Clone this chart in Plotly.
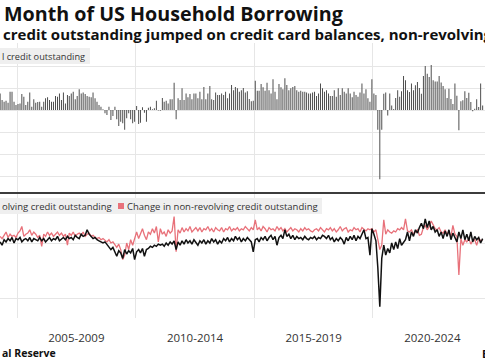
import pandas as pd
import plotly.graph_objects as go

# ---------------- data (monthly, $bn) ----------------
start_month = "2004-04-01"

total_change = [
    15, 9, 7.5, 8.5, 6.7, 16.7, 16.7, 7.6, 4.5, 5.5,
    6, 14.5, 12, 4.5, 7.5, 15.8, 3, 9.7, 6.7, 7.3,
    7.6, 3, 7.6, 10.6, 11.5, 9, 7.6, 7.6, 12.7, 12,
    15, 9, 16, 6, 13.6, 12.7, 15, 16.7, 9.7, 12.7,
    18.8, 15, 16, 14.5, 12.7, 12, 11.5, 15.8, 10.6, 7.6,
    4.5, 3, 0.6, -3, -4.5, 3, -9, -5.5, 3, -8.5,
    -14.5, -10.6, -12, -18, -7.6, -3, -8.5, -12, -10.6, 3.6,
    -12.7, -11.5, 2.4, -2.4, -10.6, 2, 3, 0.6, 1.5, 8.5,
    -0.5, -0.6, 11, 7.6, 8.5, 6, 9.7, 9.7, 24.8, -8.5,
    10.6, 9, 19.7, 9, 15, 11.5, 14.5, 9.7, 15, 15,
    10.6, 16.7, 9.7, 21, 9.7, 15, 21.8, 9.7, 9, 16,
    13.6, 13.6, 15, 13.6, 16.7, 10.6, 15, 22.7, 18, 21,
    19.7, 16.7, 18, 20, 16, 17, 10, 8, 8.5, 26.7,
    17.6, 17.6, 23.6, 20.6, 17.6, 24.8, 18, 15, 27.9, 16.7,
    9.7, 23.6, 20.6, 18.8, 28.8, 22.7, 18, 19.7, 21, 21.8,
    18, 16.7, 17.6, 16.7, 16.7, 16, 15, 15, 16, 16.7,
    12.7, 15, 24, 19.7, 16.7, 18, 15, 12.7, 12.7, 18,
    12, 19.7, 13.6, 19.7, 16.7, 15, 19.7, 15, 11.5, 16.7,
    13.6, 12, 15.8, 24, 15, 18.8, 10.6, 7.6, 27.9, 15,
    13.6, -18, -63, -18, 14.8, 16, -5, 15, 4, 1,
    11, 18, 12, 17, 31, 27, 18, 16.4, 24, 18,
    22.4, 25.5, 20, 14.8, 31, 40, 33, 30, 41, 27,
    26, 26, 31, 25, 21.8, 18.8, 11, 19.4, 10, 5.5,
    24, 13, -18.5, 7.9, 8.8, 17, 11, 15.7, 7.3, -1.2,
    1.2, 9.7, 2.7, 24, 4,
]

revolving_change = [
    1, -2, 3, 1, 4, 2, 5, 0, 4, 3,
    5, 1, 3, 4, 2, 5, 1, 4, 3, 2,
    5, 2, 4, 1, 3, 5, 2, 4, 3, 6,
    2, 4, 5, 3, 6, 4, 5, 3, 7, 5,
    4, 8, 6, 7, 12, 8, 6, 4, 5, 3,
    2, 1, 0, 1, -1, -3, -6, -4, -9, -12,
    -7, -9, -14, -6, -10, -7, -9, -5, -15, -8,
    -6, -9, -5, -12, -6, -5, -3, -4, -2, -3,
    -1, -2, -1, -3, 0, -2, 1, -1, 2, -6,
    1, -2, 2, -1, 3, 0, 2, -1, 3, 1,
    -2, 2, 0, 3, -1, 2, 0, 4, 1, 3,
    -1, 2, 0, 4, 2, 5, 1, 4, 2, 6,
    3, 5, 1, 4, 2, 5, 3, 1, -8, 3,
    4, 1, 5, 3, 6, 2, 5, 7, 3, 6,
    -2, 5, 7, 4, 12, 6, 8, 4, 7, 3,
    6, 4, 5, 3, 6, 4, 3, 5, 4, 6,
    3, 5, 4, 7, 6, 4, 7, 3, 5, 1,
    4, 2, 5, 3, -1, 5, 2, 6, 3, 7,
    2, 6, 4, 8, 12, 4, 5, -11, 13, 8,
    2, -22, -58, -14, -2, -11, -5, -9, 0, -6,
    1, -5, 4, -2, 1, 3, 10, 2, 10, 6,
    12, 9, 14, 18, 13, 22, 14, 20, 12, 15,
    10, 12, 6, 10, 4, 11, 6, 12, 3, 9,
    5, 1, 10, 4, 12, 3, 8, 2, 10, 1,
    6, 3, 5, 0, 4,
]

nonrevolving_change = [
    6, 4, 7, 10, 5, 8, 6, 7, 5, 9,
    11, 15, 6, 8, 9, 12, 7, 10, 8, 5,
    7, -3, 8, 6, 10, 7, 9, 6, 8, 10,
    7, 9, 6, 8, -2, 9, 7, 10, 6, 8,
    9, 7, 10, 6, 8, 9, 6, 7, 5, 4,
    5, 3, 4, 2, 1, 3, 0, 1, -2, -4,
    -1, -6, -15, -11, 0, -6, 3, -2, 4, 10,
    4, 8, 13, 7, 3, 10, 8, 13, 9, 15,
    1, 13, 8, 10, 6, 12, 9, 11, 24, -8,
    12, 9, 14, 10, 13, 11, 15, 10, 12, 14,
    11, 14, 10, 13, 12, 15, 11, 13, 10, 14,
    12, 11, 14, 10, 13, 12, 15, 11, 13, 12,
    14, 11, 13, 12, 15, 13, 11, 14, 12, 21,
    12, 14, 11, 15, 13, 10, 14, 12, 13, 11,
    15, 12, 14, 11, 13, 10, 12, 14, 11, 13,
    12, 10, 13, 11, 14, 12, 13, 11, 10, 12,
    13, 11, 14, 12, 10, 13, 12, 14, 11, 13,
    10, 12, 15, 11, 13, 14, 10, 12, 11, 14,
    12, 13, 10, 14, 12, 11, 13, 12, 13, 10,
    12, 4, -6, -2, 21, 8, 12, 10, 9, 11,
    10, 13, 12, 14, 12, 22, 11, 10, 12, 8,
    10, 12, 7, 8, 14, 16, 12, 15, 20, 16,
    13, 12, 14, 10, 9, 12, 8, 10, 6, 16,
    8, 6, -29, 4, -2, 3, 1, 4, -1, 2,
    3, -2, 4, 2, 3,
]

period_labels = ["2005-2009", "2010-2014", "2015-2019", "2020-2024"]
period_starts = ["2005-01-01", "2010-01-01", "2015-01-01", "2020-01-01"]
period_mids = ["2007-07-02", "2012-07-02", "2017-07-02", "2022-07-02"]

assert len(total_change) == len(revolving_change) == len(nonrevolving_change)

# ---------------- figure ----------------
W, H = 485, 360
def py(p):
    return 1 - p / H

months = pd.date_range(start_month, periods=len(total_change), freq="MS") + pd.Timedelta(days=14)
x_range = ["2004-04-13", "2024-09-20"]
bar_width_ms = 15 * 24 * 3600 * 1000

GRID = "#e6e6e6"
RED = "#e8717a"
FONT = "Open Sans"

fig = go.Figure()
fig.add_trace(go.Bar(x=months, y=total_change, width=bar_width_ms,
                     marker=dict(color="#4a4a4a", line=dict(width=0)),
                     xaxis="x", yaxis="y", showlegend=False, name="Change in total credit outstanding"))
fig.add_trace(go.Scatter(x=months, y=nonrevolving_change, mode="lines",
                         line=dict(color=RED, width=1.3), xaxis="x2", yaxis="y2",
                         showlegend=False, name="Change in non-revolving credit outstanding"))
fig.add_trace(go.Scatter(x=months, y=revolving_change, mode="lines",
                         line=dict(color="#111111", width=1.5), xaxis="x2", yaxis="y2",
                         showlegend=False, name="Change in revolving credit outstanding"))

fig.update_layout(
    width=W, height=H,
    margin=dict(l=0, r=0, t=0, b=0),
    paper_bgcolor="white", plot_bgcolor="white",
    font=dict(family=FONT, color="#333"),
    hovermode=False,
    xaxis=dict(domain=[0, 1], range=x_range, anchor="y", type="date",
               tickmode="array", tickvals=period_starts, showticklabels=False,
               showgrid=True, gridcolor=GRID, gridwidth=1, zeroline=False, showline=False, ticks=""),
    yaxis=dict(domain=[py(192), py(43)], range=[(110 - 192) / 1.1, (110 - 43) / 1.1],
               tick0=0, dtick=20, showgrid=True, gridcolor=GRID, showticklabels=False,
               zeroline=False, showline=False),
    xaxis2=dict(domain=[0, 1], range=x_range, anchor="y2", type="date",
                tickmode="array", tickvals=period_mids, ticktext=period_labels,
                showgrid=False, zeroline=False, showline=False,
                ticks="outside", ticklen=9, tickcolor="rgba(0,0,0,0)",
                tickfont=dict(size=11.5, color="#333", family=FONT),
                minor=dict(tickmode="array", tickvals=period_starts, showgrid=True,
                           gridcolor=GRID, gridwidth=1, ticks="")),
    yaxis2=dict(domain=[py(318), py(194)], range=[(243 - 318) / 1.1, (243 - 194) / 1.1],
                tick0=0, dtick=50, showgrid=True, gridcolor=GRID, showticklabels=False,
                zeroline=False, showline=False),
)

shapes = [
    dict(type="line", xref="paper", yref="paper", x0=0, x1=1, y0=py(193), y1=py(193),
         line=dict(color="#3c3c3c", width=2)),
    dict(type="rect", xref="paper", yref="paper", x0=0, x1=90 / W, y0=py(64), y1=py(48),
         fillcolor="#efefef", line=dict(width=0), layer="above"),
    dict(type="rect", xref="paper", yref="paper", x0=0, x1=322 / W, y0=py(214), y1=py(198),
         fillcolor="#efefef", line=dict(width=0), layer="above"),
    dict(type="rect", xref="paper", yref="paper", x0=118 / W, x1=124 / W, y0=py(209), y1=py(203),
         fillcolor=RED, line=dict(width=0), layer="above"),
]
fig.update_layout(shapes=shapes)

def ann(text, x, y, size, bold=False, color="#333", xanchor="left"):
    t = f"<b>{text}</b>" if bold else text
    return dict(text=t, xref="paper", yref="paper", x=x / W, y=py(y), xanchor=xanchor,
                yanchor="middle", showarrow=False, font=dict(size=size, color=color, family=FONT))

fig.update_layout(annotations=[
    ann("Month of US Household Borrowing", 2, 13.5, 19.7, bold=True, color="#111"),
    ann("credit outstanding jumped on credit card balances, non-revolving", 1, 33.5, 15, bold=True, color="#111"),
    ann("l credit outstanding", 0, 56, 9.2),
    ann("olving credit outstanding", 0, 206, 9.5),
    ann("Change in non-revolving credit outstanding", 125, 206, 9.5),
    ann("al Reserve", 0, 353, 10.5, bold=True, color="#111"),
    ann("B", 480, 353, 11, bold=True, color="#111"),
])

fig.write_html("out.html", config={"displayModeBar": False, "staticPlot": True},
               post_script="document.body.style.margin='0';document.body.style.padding='0';")
